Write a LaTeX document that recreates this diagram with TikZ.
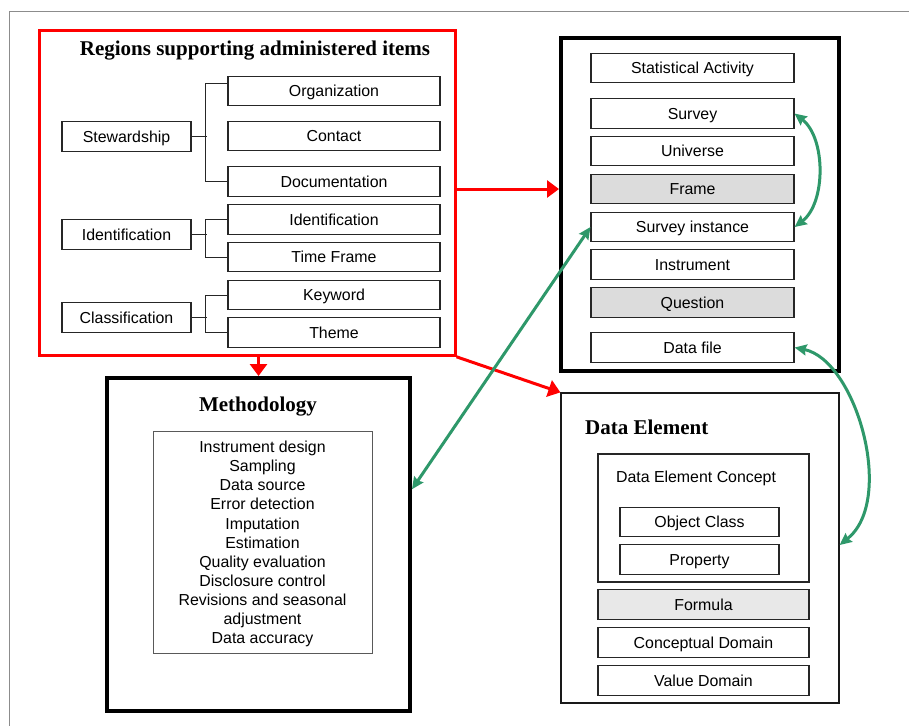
\documentclass[tikz,border=0pt]{standalone}
\usepackage{fontspec}
\setmainfont{Liberation Sans}
\newfontfamily\titlefont{Liberation Serif}
\usetikzlibrary{arrows.meta,calc}
\definecolor{linkgreen}{RGB}{46,152,106}
\definecolor{boxgray}{RGB}{220,220,220}
\definecolor{dotgray}{RGB}{232,232,232}
\begin{document}
\begin{tikzpicture}[x=1pt,y=-1pt,
  every node/.style={font=\fontsize{15.9}{19.1}\selectfont, inner sep=0pt},
  box/.style={draw=black!85, line width=1.1pt, minimum height=29.5pt, fill=white,
              text height=11.4pt, text depth=0pt},
  lbox/.style={box, minimum width=129pt},
  rbox/.style={box, minimum width=212pt},
  sbox/.style={box, minimum width=203pt},
  dbox/.style={box, minimum width=211pt},
  shaded/.style={fill=boxgray},
  heading/.style={font=\titlefont\bfseries\fontsize{21}{25}\selectfont,
                  text height=13.9pt, text depth=0pt},
  tree/.style={draw=black!85, line width=1pt},
  redarrow/.style={draw=red, line width=3pt, -{Triangle[length=12pt,width=17pt]}},
  greenarrow/.style={draw=linkgreen, line width=3pt,
     {Stealth[length=12pt,width=11pt,inset=1.5pt]}-{Stealth[length=12pt,width=11pt,inset=1.5pt]}},
]
\useasboundingbox (0,0) rectangle (909,726);

% page frame
\draw[black!45, line width=1pt] (909,11) -- (9,11) -- (9,726);

% ---- regions supporting administered items ----
\node[draw=red, line width=3pt, minimum width=416pt, minimum height=325pt] (regions) at (247,192.8) {};
\node[heading] (regtitle) at (255,49) {Regions supporting administered items};

\node[lbox] (stew)  at (126.5,136.5) {Stewardship};
\node[lbox] (ident) at (126.5,234.5) {Identification};
\node[lbox] (class) at (126.5,317.5) {Classification};

\node[rbox] (org)    at (334,91)    {Organization};
\node[rbox] (cont)   at (334,136)   {Contact};
\node[rbox] (doc)    at (334,181.5) {Documentation};
\node[rbox] (ident2) at (334,219.5) {Identification};
\node[rbox] (time)   at (334,257)   {Time Frame};
\node[rbox] (key)    at (334,295)   {Keyword};
\node[rbox] (theme)  at (334,332.5) {Theme};

\draw[tree] (stew.east) -- ++(15,0);
\draw[tree] ($(org.west)+(0,-8)$) -- ++(-22,0) |- (doc.west);
\draw[tree] (ident.east) -- ++(15,0);
\draw[tree] (ident2.west) -- ++(-22,0) |- (time.west);
\draw[tree] (class.east) -- ++(15,0);
\draw[tree] (key.west) -- ++(-22,0) |- (theme.west);

% ---- statistical activity ----
\node[draw=black, line width=4pt, minimum width=278pt, minimum height=333pt] (stat) at (700,204.5) {};
\node[sbox] (sa)    at (692.5,68)    {Statistical Activity};
\node[sbox] (surv)  at (692.5,113.5) {Survey};
\node[sbox] (univ)  at (692.5,151)   {Universe};
\node[sbox,shaded] (frm)   at (692.5,189)   {Frame};
\node[sbox] (sinst) at (692.5,227)   {Survey instance};
\node[sbox] (instr) at (692.5,264.5) {Instrument};
\node[sbox,shaded] (quest) at (692.5,302.5) {Question};
\node[sbox] (dfile) at (692.5,347.5) {Data file};

% ---- methodology ----
\node[draw=black, line width=4pt, minimum width=303pt, minimum height=333pt] (meth) at (258.5,544.5) {};
\node[heading] (methtitle) at (258,404.5) {Methodology};
\node[draw=black!65, line width=1pt, minimum width=219pt, minimum height=222pt] (methlist) at (262.5,542) {};
\node[align=center] (methtext) at (262.5,544) {Instrument design\\Sampling\\Data source\\Error detection\\Imputation\\Estimation\\Quality evaluation\\Disclosure control\\Revisions and seasonal\\adjustment\\Data accuracy};

% ---- data element ----
\node[draw=black!90, line width=1.2pt, minimum width=278pt, minimum height=310pt] (de) at (700,548) {};
\node[heading, anchor=west] (detitle) at (585,428) {Data Element};
\node[dbox, minimum height=128pt] (dec) at (703.5,518) {};
\node[text height=11.4pt, text depth=0pt] (dectext) at (696,477) {Data Element Concept};
\node[box, minimum width=159pt] (objc) at (699.5,522)   {Object Class};
\node[box, minimum width=159pt] (prop) at (699.5,559.5) {Property};
\node[dbox, fill=dotgray] (form)  at (703.5,604.5) {Formula};
\node[dbox] (cdom)  at (703.5,642.5) {Conceptual Domain};
\node[dbox] (vdom)  at (703.5,680.5) {Value Domain};

% ---- red links ----
\draw[redarrow] (regions.east |- frm) -- (stat.west |- frm);
\draw[redarrow] (meth.north |- regions.south) -- (meth.north);
\draw[redarrow] (regions.south east) -- (de.north west);

% ---- green links ----
\draw[greenarrow] (surv.east) .. controls (826,138) and (826,203) .. (sinst.east);
\draw[greenarrow] (sinst.west) -- ($(meth.north east)!0.336!(meth.south east)$);
\draw[greenarrow] (dfile.east) .. controls (856,360) and (896,500) .. (de.east |- 0,545);
\end{tikzpicture}
\end{document}
